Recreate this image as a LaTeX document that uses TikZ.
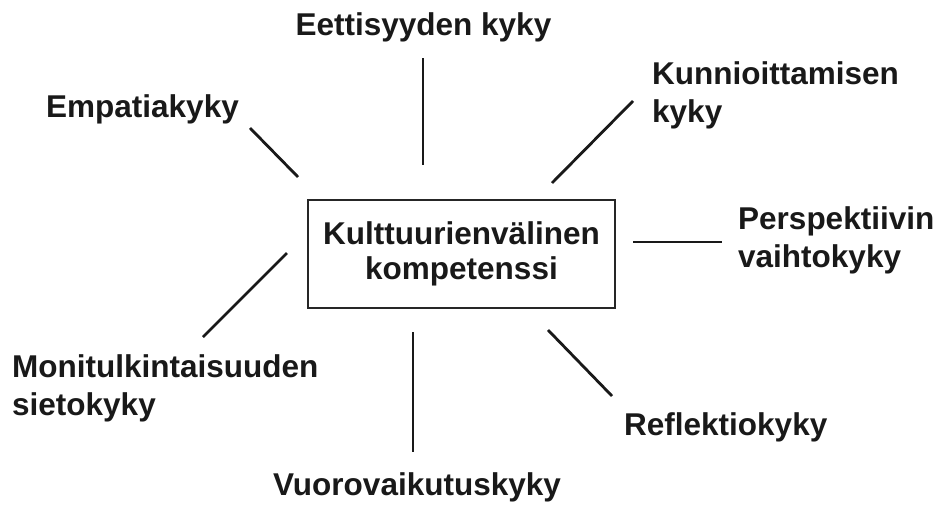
\documentclass[tikz,border=0pt]{standalone}
\usepackage{fontspec}
\setmainfont{Liberation Sans}
\begin{document}
\begin{tikzpicture}[x=1pt,y=-1pt,
  lbl/.style={font=\fontsize{31.5}{38}\selectfont\bfseries, text=black!90, inner sep=0pt, align=left},
  conn/.style={line width=2.8pt, black!90}]
\useasboundingbox (0,0) rectangle (937,504);
\fill[white] (0,0) rectangle (937,504);
\node[draw=black!85, line width=1.5pt, minimum width=307pt, minimum height=108pt,
  font=\fontsize{31.5}{35}\selectfont\bfseries, text=black!90, align=center, inner sep=0pt]
  (box) at (461.5,254) {Kulttuurienvälinen\\kompetenssi};
\node[lbl, anchor=base] (eet) at (423.5,35) {Eettisyyden kyky};
\node[lbl, anchor=base west] (emp) at (46,117) {Empatiakyky};
\node[lbl, anchor=base west] (kun) at (652,122) {Kunnioittamisen\\kyky};
\node[lbl, anchor=base west] (per) at (738,267) {Perspektiivin\\vaihtokyky};
\node[lbl, anchor=base west] (mon) at (12,415) {Monitulkintaisuuden\\sietokyky};
\node[lbl, anchor=base west] (ref) at (624,435) {Reflektiokyky};
\node[lbl, anchor=base] (vuo) at (417,495) {Vuorovaikutuskyky};
\coordinate (eetA) at (423,58);  \coordinate (eetB) at (423,165);
\coordinate (empA) at (250,128); \coordinate (empB) at (298,177);
\coordinate (kunA) at (633,101); \coordinate (kunB) at (552,183);
\coordinate (perA) at (633,242); \coordinate (perB) at (722,242);
\coordinate (monA) at (287,253); \coordinate (monB) at (203,337);
\coordinate (refA) at (548,330); \coordinate (refB) at (612,396);
\coordinate (vuoA) at (413,332); \coordinate (vuoB) at (413,452);
\draw[conn] (eetA) -- (eetB);
\draw[conn] (empA) -- (empB);
\draw[conn] (kunA) -- (kunB);
\draw[conn] (perA) -- (perB);
\draw[conn] (monA) -- (monB);
\draw[conn] (refA) -- (refB);
\draw[conn] (vuoA) -- (vuoB);
\end{tikzpicture}
\end{document}
